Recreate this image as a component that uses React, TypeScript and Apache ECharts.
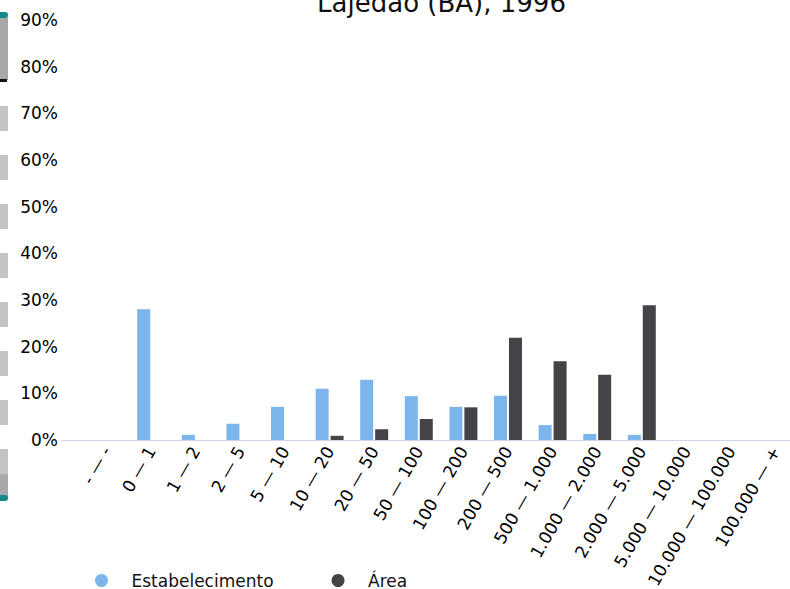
import React, { useEffect, useRef } from 'react';
import * as echarts from 'echarts';

const titleText = 'Lajedão (BA), 1996';
const categories = [
  '- — -', '0 — 1', '1 — 2', '2 — 5', '5 — 10', '10 — 20', '20 — 50', '50 — 100',
  '100 — 200', '200 — 500', '500 — 1.000', '1.000 — 2.000', '2.000 — 5.000',
  '5.000 — 10.000', '10.000 — 100.000', '100.000 — +',
];
const estabelecimento = [0, 28.0, 1.1, 3.5, 7.1, 11.0, 12.9, 9.4, 7.1, 9.5, 3.2, 1.3, 1.1, 0, 0, 0];
const area = [0, 0, 0, 0, 0, 0.9, 2.3, 4.5, 7.0, 21.9, 16.9, 14.0, 28.9, 0, 0, 0];
const seriesNames = ['Estabelecimento', 'Área'];
const yMin = 0;
const yMax = 90;
const yInterval = 10;

const OFF_X = 20;
const OFF_Y = 15;
const FONT = 'DejaVu Sans';

export default function App() {
  const ref = useRef<HTMLDivElement>(null);
  useEffect(() => {
    if (!ref.current) return;
    const chart = echarts.init(ref.current, undefined, { renderer: 'svg' });
    const xData = ['', ...categories, ''];
    const pad = (arr: number[]) => ['-', ...arr, '-'];

    const strip: any[] = [];
    const X0 = -8 + OFF_X;
    const W = 16;
    strip.push({ type: 'rect', shape: { x: X0, y: 17 + OFF_Y, width: W, height: 63 }, style: { fill: '#a9a9a9' } });
    strip.push({ type: 'rect', shape: { x: X0, y: 12 + OFF_Y, width: W, height: 6, r: 3 }, style: { fill: '#12898a' } });
    strip.push({ type: 'rect', shape: { x: X0, y: 79 + OFF_Y, width: 15, height: 3 }, style: { fill: '#111' } });
    for (let k = 0; k < 8; k++) {
      strip.push({ type: 'rect', shape: { x: X0, y: 106 + 49 * k + OFF_Y, width: W, height: 25 }, style: { fill: '#c4c4c4' } });
    }
    strip.push({ type: 'rect', shape: { x: X0, y: 474 + OFF_Y, width: W, height: 23 }, style: { fill: '#a9a9a9' } });
    strip.push({ type: 'rect', shape: { x: X0, y: 495 + OFF_Y, width: W, height: 6, r: 3 }, style: { fill: '#12898a' } });

    chart.setOption({
      animation: false,
      title: {
        text: titleText,
        left: 'center',
        top: 0,
        textStyle: { fontFamily: FONT, fontSize: 26, fontWeight: 'normal', color: '#111' },
      },
      legend: {
        data: seriesNames,
        left: 110,
        top: 582,
        icon: 'circle',
        itemWidth: 50,
        itemHeight: 13,
        itemGap: 58,
        textStyle: { fontFamily: FONT, fontSize: 17, color: '#111' },
      },
      grid: { left: 62 + OFF_X, top: 20 + OFF_Y, width: 44.6 * 17, height: 420 },
      xAxis: {
        type: 'category',
        data: xData,
        boundaryGap: false,
        axisLine: { lineStyle: { color: '#ccd6eb', width: 1 } },
        axisTick: { show: false },
        axisLabel: { interval: 0, rotate: 60, margin: 8, fontFamily: FONT, fontSize: 17, color: '#000' },
        splitLine: { show: false },
      },
      yAxis: {
        type: 'value',
        min: yMin,
        max: yMax,
        interval: yInterval,
        axisLine: { show: false },
        axisTick: { show: false },
        splitLine: { show: false },
        axisLabel: { formatter: '{value}%', margin: 4, fontFamily: FONT, fontSize: 17, color: '#000' },
      },
      graphic: strip,
      series: [
        { name: seriesNames[0], type: 'bar', data: pad(estabelecimento), barWidth: 13, barGap: '15%', itemStyle: { color: '#7cb5ec' } },
        { name: seriesNames[1], type: 'bar', data: pad(area), barWidth: 13, barGap: '15%', itemStyle: { color: '#434348' } },
      ],
    });
    return () => chart.dispose();
  }, []);
  return (
    <div style={{ position: 'fixed', left: 0, top: 0, width: 790, height: 589, overflow: 'hidden', background: '#fff' }}>
      <div ref={ref} style={{ position: 'absolute', left: -OFF_X, top: -OFF_Y, width: 923, height: 640 }} />
    </div>
  );
}
